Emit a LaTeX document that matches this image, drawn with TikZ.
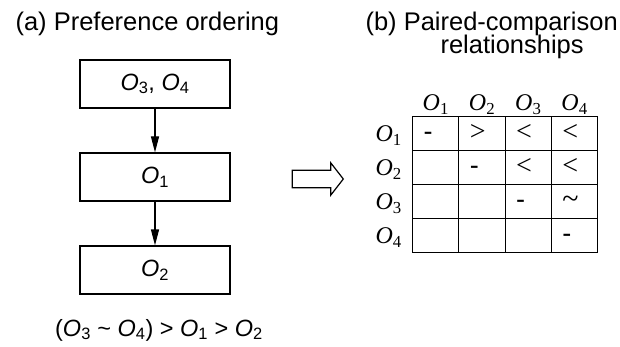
\documentclass[tikz,border=0pt]{standalone}
\usepackage{fontspec}
\setmainfont{Liberation Sans}
\newfontfamily\timesfont{Liberation Serif}
\usetikzlibrary{arrows.meta,positioning,matrix}

\newcommand{\ob}[1]{\textit{O}\textsubscript{#1}}
\newcommand{\tob}[1]{{\timesfont\textit{O}\textsubscript{#1}}}
\newcommand{\cmore}{{\timesfont\fontsize{28}{30}\selectfont >}}
\newcommand{\cless}{{\timesfont\fontsize{28}{30}\selectfont <}}
\newcommand{\csim}{{\timesfont\fontsize{30}{30}\selectfont\textasciitilde}}

\begin{document}
\begin{tikzpicture}[x=1pt,y=-1pt,node distance=93pt,on grid,auto]
	\tikzstyle{every node}=[font=\fontsize{23.5}{26}\selectfont]
	\tikzstyle{level}=[draw,line width=1.2pt,minimum width=150pt,minimum height=48pt]
	\tikzstyle{title}=[anchor=base west,font=\fontsize{25.5}{30}\selectfont]
	\tikzstyle{cell}=[draw,line width=1pt,anchor=center,font=\fontsize{27}{30}\selectfont,
		text width=24.25pt,align=left,inner xsep=11pt,inner ysep=0pt,
		text height=14pt,text depth=0pt,minimum height=34pt]
	\tikzstyle{lab}=[anchor=base,font=\fontsize{24}{26}\selectfont]

	\useasboundingbox (0,0) rectangle (620,347);

	% (a) ordering
	\node[title] (ta) at (12,30.5) {(a) Preference ordering};
	\node[level] (o34) at (155,84) {\ob{3},\ \ob{4}};
	\node[level] (o1) [below=of o34] {\ob{1}};
	\node[level] (o2) [below=of o1] {\ob{2}};
	\node[anchor=base] (order) at (159,336)
		{(\ob{3} \textasciitilde\ \ob{4}) > \ob{1} > \ob{2}};

	\path[-{Triangle[length=16pt,width=8pt]},line width=1.2pt]
	(o34) edge[] (o1)
	(o1) edge[] (o2)
	;

	% hollow arrow
	\draw[line width=1.2pt] (292.3,170.2) -- (330.7,170.2) -- (330.7,162.8) -- (343.3,179)
		-- (330.7,195.2) -- (330.7,187.8) -- (292.3,187.8) -- cycle;

	% (b) relationships
	\node[title] (tb1) at (362,30.5) {(b) Paired-comparison};
	\node[title] (tb2) at (437,54) {relationships};

	\matrix (rel) at (505.2,184.9) [matrix of nodes,nodes in empty cells,
		nodes={cell},column sep=-1pt,row sep=-1pt] {
		- & \cmore & \cless & \cless \\
		  & - & \cless & \cless \\
		  &   & - & \csim \\
		  &   &   & - \\
	};

	\foreach \c in {1,...,4} {
		\path (rel-1-\c.north) ++(0,-5.5) node[lab] (h\c) {\tob{\c}};
		\path (rel-\c-1.west) ++(-23.5,7.5) node[lab] (r\c) {\tob{\c}};
	}
\end{tikzpicture}
\end{document}
